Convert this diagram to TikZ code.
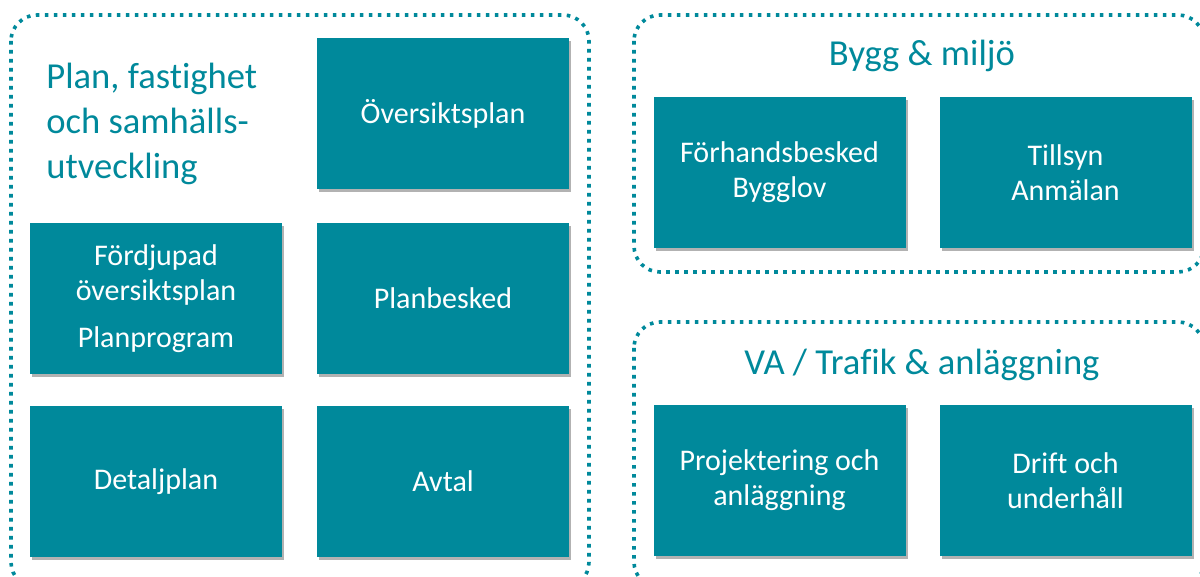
\documentclass[tikz,border=0pt]{standalone}
\usepackage{fontspec}
\setmainfont{Carlito}[Ligatures=NoCommon]
\usetikzlibrary{shadows}
\definecolor{teal}{RGB}{0,137,155}

\begin{document}
\begin{tikzpicture}[x=0.5pt,y=-0.5pt,
    area/.style={draw=teal,line width=1.8pt,dash pattern=on 1.8pt off 2.7pt,rounded corners=13pt},
    box/.style={fill=teal,text=white,minimum width=126pt,minimum height=75.5pt,inner sep=0pt,
      align=center,font=\fontsize{15}{17.5}\selectfont,
      drop shadow={shadow xshift=1pt,shadow yshift=-1.5pt,opacity=0.3,fill=black}},
    title/.style={text=teal,font=\fontsize{18.3}{22.5}\selectfont,inner sep=0pt}]
      \useasboundingbox(0,0)rectangle(1200,577);
      \begin{scope}\clip(0,0)rectangle(1200,577);
      % dotted areas
      \draw[area](11,15)rectangle(589,588);
      \draw[area](634,15)rectangle(1204,272);
      \draw[area](634,322)rectangle(1204,588);
      \end{scope}

      \node[title,align=left,anchor=north west](plan) at (46,63)
        {Plan, fastighet\\och samhälls-\\utveckling};
      \node[title](bygg) at (922,56){Bygg \& miljö};
      \node[title](va) at (922,365){VA / Trafik \& anläggning};

      \node[box](oversikt) at (443,114){Översiktsplan};
      \node[box](fordjupad) at (156,298.5){Fördjupad\\översiktsplan\\[6pt]Planprogram};
      \node[box](planbesked) at (443,298.5){Planbesked};
      \node[box](detaljplan) at (156,481.5){Detaljplan};
      \node[box](avtal) at (443,481.5){Avtal};

      \node[box](forhand) at (779.5,172.5){Förhandsbesked\\Bygglov};
      \node[box](tillsyn) at (1065.5,172.5){Tillsyn\\Anmälan};
      \node[box](projekt) at (779.5,480.5){Projektering och\\anläggning};
      \node[box](drift) at (1065.5,480.5){Drift och\\underhåll};
    \end{tikzpicture}
\end{document}
